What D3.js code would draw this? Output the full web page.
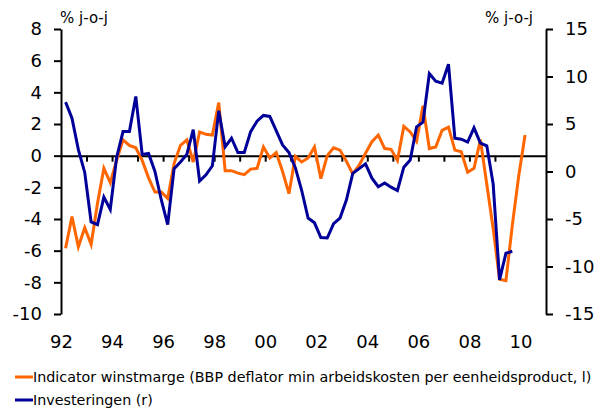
<!DOCTYPE html>
<html>
<head>
<meta charset="utf-8">
<script src="https://cdn.jsdelivr.net/npm/d3@7"></script>
<style>
  body { margin: 0; background: #fff; }
  svg { display: block; font-family: "DejaVu Sans", Verdana, sans-serif; }
</style>
</head>
<body>
<svg id="chart" width="597" height="410"></svg>
<script>
// quarterly data, starting 1992 Q1
const startYear = 1992;

// Indicator winstmarge (left axis, % j-o-j)
const winstmarge = [
  -5.85, -3.85, -5.75, -4.55, -5.6, -3.0, -0.8, -1.7,
  -0.3, 1.0, 0.65, 0.5, -0.3, -1.4, -2.3, -2.3,
  -2.7, -0.5, 0.65, 1.0, -0.4, 1.5, 1.35, 1.3,
  3.35, -0.95, -0.95, -1.1, -1.2, -0.85, -0.8, 0.55,
  -0.15, 0.2, -1.0, -2.4, -0.05, -0.4, -0.15, 0.55,
  -1.45, 0.0, 0.5, 0.35, -0.35, -1.15, -0.6, 0.15,
  0.88, 1.3, 0.45, 0.4, -0.3, 1.85, 1.5, 0.9,
  3.15, 0.45, 0.55, 1.6, 1.8, 0.35, 0.25, -1.05,
  -0.8, 1.0, -1.8, -4.6, -7.8, -7.9, -4.4, -1.3,
  1.3
];

// Investeringen (right axis, % j-o-j)
const investeringen = [
  7.3, 5.6, 2.3, -0.1, -5.3, -5.6, -2.7, -4.0,
  1.5, 4.2, 4.2, 7.9, 1.8, 1.9, 0.0, -3.0,
  -5.6, 0.3, 1.0, 1.8, 4.4, -1.0, -0.35, 0.6,
  6.4, 2.6, 3.5, 2.0, 2.0, 4.2, 5.3, 5.9,
  5.8, 4.3, 2.8, 2.0, 0.4, -2.0, -4.9, -5.4,
  -6.95, -7.0, -5.5, -4.9, -3.0, -0.2, 0.3, 0.8,
  -0.7, -1.6, -1.2, -1.65, -2.0, 0.45, 1.2, 4.7,
  5.2, 10.3, 9.5, 9.3, 11.3, 3.5, 3.4, 3.1,
  4.6, 3.0, 2.7, -1.3, -11.4, -8.6, -8.4
];

const leftTicks = [8, 6, 4, 2, 0, -2, -4, -6, -8, -10];
const rightTicks = [15, 10, 5, 0, -5, -10, -15];
const yearTicks = d3.range(1993, 2011);
const yearLabels = [1992, 1994, 1996, 1998, 2000, 2002, 2004, 2006, 2008, 2010];

const legendItems = [
  { name: "Indicator winstmarge (BBP deflator min arbeidskosten per eenheidsproduct, l)", color: "#ff6600" },
  { name: "Investeringen (r)", color: "#000099" }
];

const svg = d3.select("#chart");

const plotLeft = 61, plotRight = 546, plotTop = 29, plotBottom = 314;

const x = d3.scaleLinear().domain([1992, 2011]).range([plotLeft, plotRight]);
const yL = d3.scaleLinear().domain([-10, 8]).range([plotBottom, plotTop]);
const yR = d3.scaleLinear().domain([-15, 15]).range([plotBottom, plotTop]);

// plain hyphen for negatives, like the original
const fmt = d => String(d);

// left axis
const gL = svg.append("g")
  .attr("transform", `translate(${plotLeft},0)`)
  .call(d3.axisLeft(yL).tickValues(leftTicks).tickSize(7).tickSizeOuter(0).tickPadding(12).tickFormat(fmt));

// right axis
const gR = svg.append("g")
  .attr("transform", `translate(${plotRight},0)`)
  .call(d3.axisRight(yR).tickValues(rightTicks).tickSize(7).tickSizeOuter(0).tickPadding(12).tickFormat(fmt));

[gL, gR].forEach(g => {
  g.select(".domain").attr("stroke", "#000").attr("stroke-width", 2);
  g.selectAll(".tick line").attr("stroke", "#000").attr("stroke-width", 2);
  g.selectAll(".tick text").attr("font-size", 18).attr("fill", "#000")
    .attr("font-family", "DejaVu Sans, Verdana, sans-serif");
});

// zero line with year ticks
const gX = svg.append("g")
  .attr("transform", `translate(0,${yL(0)})`)
  .call(d3.axisBottom(x).tickValues(yearTicks).tickSize(6).tickSizeOuter(0).tickFormat(""));
gX.select(".domain").attr("stroke", "#000").attr("stroke-width", 2);
gX.selectAll(".tick line").attr("stroke", "#000").attr("stroke-width", 2);

// year labels
const gXL = svg.append("g")
  .attr("transform", `translate(0,${plotBottom + 13})`)
  .call(d3.axisBottom(x).tickValues(yearLabels).tickSize(0).tickPadding(8)
    .tickFormat(d => String(d).slice(2)));
gXL.select(".domain").remove();
gXL.selectAll(".tick text").attr("font-size", 18).attr("fill", "#000")
  .attr("font-family", "DejaVu Sans, Verdana, sans-serif");

// unit labels
svg.append("text").attr("x", plotLeft - 1).attr("y", 23)
  .attr("font-size", 15).text("% j-o-j");
svg.append("text").attr("x", 533).attr("y", 23).attr("text-anchor", "end")
  .attr("font-size", 15).text("% j-o-j");

// series
const qx = i => x(startYear + i / 4 + 0.18);

svg.append("path")
  .datum(winstmarge)
  .attr("fill", "none")
  .attr("stroke", legendItems[0].color)
  .attr("stroke-width", 3)
  .attr("d", d3.line().x((d, i) => qx(i)).y(d => yL(d)));

svg.append("path")
  .datum(investeringen)
  .attr("fill", "none")
  .attr("stroke", legendItems[1].color)
  .attr("stroke-width", 3)
  .attr("d", d3.line().x((d, i) => qx(i)).y(d => yR(d)));

// legend
const leg = svg.append("g").selectAll("g")
  .data(legendItems)
  .enter()
  .append("g")
  .attr("transform", (d, i) => `translate(15,${377 + i * 23})`);

leg.append("line")
  .attr("x1", 0).attr("x2", 18)
  .attr("stroke", d => d.color)
  .attr("stroke-width", 3);

leg.append("text")
  .attr("x", 18)
  .attr("y", 5)
  .attr("font-size", 14.3)
  .attr("fill", "#000")
  .text(d => d.name);
</script>
</body>
</html>
